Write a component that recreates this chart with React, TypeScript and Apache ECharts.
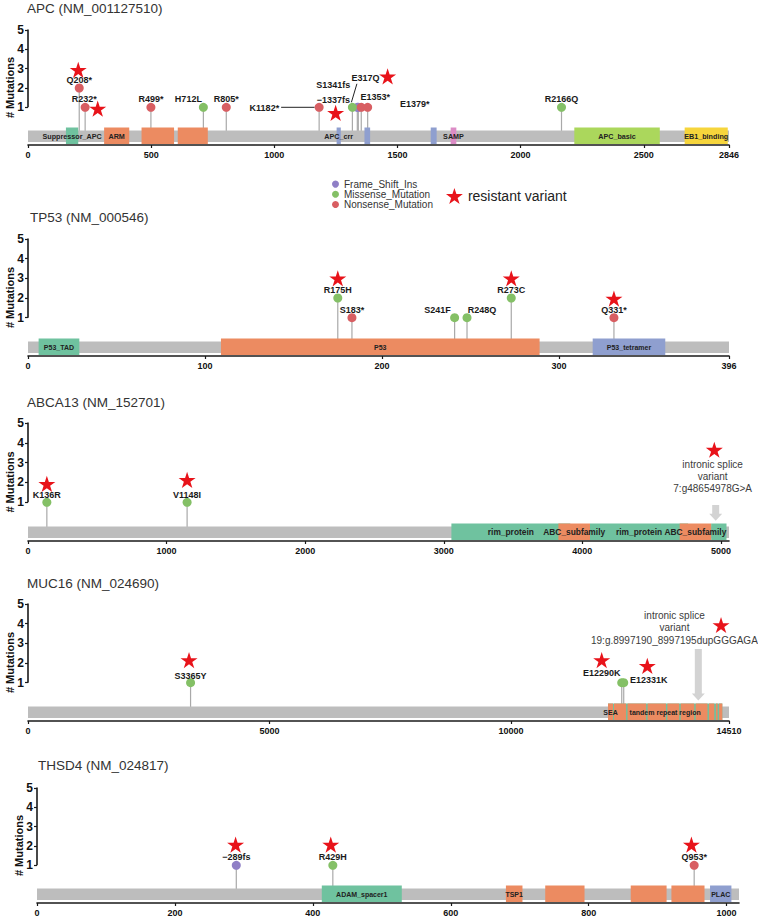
import React, { useEffect, useRef } from "react";
import * as echarts from "echarts";

const FONT = "'Liberation Sans', Arial, Helvetica, sans-serif";

// ---------- data ----------
const GENE_TITLES = [
  "APC (NM_001127510)",
  "TP53 (NM_000546)",
  "ABCA13 (NM_152701)",
  "MUC16 (NM_024690)",
  "THSD4 (NM_024817)",
];
const PROTEIN_LENGTHS = [2846, 396, 5058, 14510, 1018];
const X_TICKS = [
  [0, 500, 1000, 1500, 2000, 2500, 2846],
  [0, 100, 200, 300, 396],
  [0, 1000, 2000, 3000, 4000, 5000],
  [0, 5000, 10000, 14510],
  [0, 200, 400, 600, 800, 1000],
];
const Y_TICKS = [1, 2, 3, 4, 5];
const Y_MIN = -0.95;
const Y_MAX = 5;
const MUTATION_TYPES = ["Frame_Shift_Ins", "Missense_Mutation", "Nonsense_Mutation"];
const MUTATION_COLORS = ["#8f7fc6", "#84c066", "#d85e62"];
const STAR_LABEL = "resistant variant";

const DOMAIN_COLORS: Record<string, string> = {
  Suppressor_APC: "#6fc29f",
  ARM: "#ec8b61",
  APC_crr: "#8f9fcf",
  SAMP: "#dc8cc6",
  APC_basic: "#abd75c",
  EB1_binding: "#f6d53c",
  P53_TAD: "#6fc29f",
  P53: "#ec8b61",
  P53_tetramer: "#8f9fcf",
  rim_protein: "#6fc29f",
  ABC_subfamily: "#ec8b61",
  "tandem repeat region": "#6fc29f",
  SEA: "#ec8b61",
  ADAM_spacer1: "#6fc29f",
  TSP1: "#ec8b61",
  PLAC: "#8f9fcf",
};

// domains: [name, start, end, show label]
const APC_DOMAINS: [string, number, number, number][] = [
  ["Suppressor_APC", 154, 204, 1],
  ["ARM", 309, 411, 1],
  ["ARM", 461, 593, 0],
  ["ARM", 608, 730, 0],
  ["APC_crr", 1253, 1270, 1],
  ["APC_crr", 1366, 1389, 0],
  ["APC_crr", 1635, 1659, 0],
  ["SAMP", 1716, 1739, 1],
  ["APC_basic", 2218, 2565, 1],
  ["EB1_binding", 2666, 2841, 1],
];
const TP53_DOMAINS: [string, number, number, number][] = [
  ["P53_TAD", 6, 29, 1],
  ["P53", 109, 289, 1],
  ["P53_tetramer", 319, 360, 1],
];
const ABCA13_DOMAINS: [string, number, number, number][] = [
  ["rim_protein", 3055, 3913, 1],
  ["rim_protein", 4055, 4763, 1],
  ["rim_protein", 4929, 5040, 0],
  ["ABC_subfamily", 3827, 4055, 1],
  ["ABC_subfamily", 4702, 4929, 1],
];
const MUC16_DOMAINS: [string, number, number, number][] = [
  ["tandem repeat region", 12006, 14372, 1],
  ["SEA", 12006, 12110, 1],
  ["SEA", 12130, 12380, 0],
  ["SEA", 12410, 12795, 0],
  ["SEA", 12825, 13205, 0],
  ["SEA", 13235, 13480, 0],
  ["SEA", 13510, 13790, 0],
  ["SEA", 13820, 14065, 0],
  ["SEA", 14095, 14205, 0],
  ["SEA", 14240, 14275, 0],
  ["SEA", 14305, 14372, 0],
];
const THSD4_DOMAINS: [string, number, number, number][] = [
  ["ADAM_spacer1", 413, 529, 1],
  ["TSP1", 680, 704, 1],
  ["TSP1", 737, 794, 0],
  ["TSP1", 861, 913, 0],
  ["TSP1", 920, 968, 0],
  ["PLAC", 976, 1007, 1],
];

// mutations: [position, count, label, type index]
const APC_MUTATIONS: [number, number, string, number][] = [
  [208, 2, "Q208*", 2],
  [232, 1, "R232*", 2],
  [499, 1, "R499*", 2],
  [712, 1, "H712L", 1],
  [805, 1, "R805*", 2],
  [1182, 1, "K1182*", 2],
  [1317, 1, "E317Q", 1],
  [1337, 1, "\u22121337fs", 0],
  [1341, 1, "S1341fs", 0],
  [1353, 1, "E1353*", 2],
  [1379, 1, "E1379*", 2],
  [2166, 1, "R2166Q", 1],
];
const TP53_MUTATIONS: [number, number, string, number][] = [
  [175, 2, "R175H", 1],
  [183, 1, "S183*", 2],
  [241, 1, "S241F", 1],
  [248, 1, "R248Q", 1],
  [273, 2, "R273C", 1],
  [331, 1, "Q331*", 2],
];
const ABCA13_MUTATIONS: [number, number, string, number][] = [
  [136, 1, "K136R", 1],
  [1148, 1, "V1148I", 1],
];
const MUC16_MUTATIONS: [number, number, string, number][] = [
  [3365, 1, "S3365Y", 1],
  [12290, 1, "E12290K", 1],
  [12331, 1, "E12331K", 1],
];
const THSD4_MUTATIONS: [number, number, string, number][] = [
  [289, 1, "\u2212289fs", 0],
  [429, 1, "R429H", 1],
  [953, 1, "Q953*", 2],
];

// resistant variant stars: [position, height]
const APC_STARS = [[204, 2.94], [283, 0.93], [1249, 0.71], [1460, 2.6]];
const TP53_STARS = [[175, 3.0], [273, 3.0], [331, 1.97]];
const ABCA13_STARS = [[136, 1.93], [1148, 2.13], [4952, 3.65]];
const MUC16_STARS = [[3333, 2.15], [11875, 2.15], [12819, 1.85], [14345, 3.93]];
const THSD4_STARS = [[288, 2.07], [426, 2.07], [949, 2.07]];

// intronic splice annotations: text lines and [text x, text y, arrow x, arrow top, arrow tip]
const ABCA13_NOTE_TEXT = ["intronic splice", "variant", "7:g48654978G>A"];
const ABCA13_NOTE_AT = [4940, 2.3, 4962, 0.86, 0.07];
const MUC16_NOTE_TEXT = ["intronic splice", "variant", "19:g.8997190_8997195dupGGGAGA"];
const MUC16_NOTE_AT = [13380, 3.78, 13875, 2.71, 0.09];

// ---------- layout (pixels) ----------
const GRID_BOXES = [
  [28, 29, 30, 115],
  [28, 29, 239, 117],
  [28, 29, 423, 118],
  [28, 29, 604, 117],
  [37, 19, 788, 115],
];
const TITLE_POS = [[27, 1], [30, 210], [27, 395], [27, 576], [38, 758]];
const DOMAIN_FONT = [7.2, 7, 8.4, 7, 7];
// label offsets from the lollipop head: [dx, dy, align]
const APC_LABEL_OFFSETS: [number, number, string][] = [
  [0, -8, "center"], [-1, -8, "center"], [0, -8, "center"], [-15, -8, "center"],
  [0, -8, "center"], [-40, 1, "right"], [13, -29, "center"], [-24, -7, "center"],
  [-25, -22, "center"], [14, -10, "center"], [47, -3, "center"], [0, -8, "center"],
];
const TP53_LABEL_OFFSETS: [number, number, string][] = [
  [0, -8, "center"], [0, -8, "center"], [-17, -8, "center"], [15, -8, "center"],
  [0, -8, "center"], [0, -8, "center"],
];
const ABCA13_LABEL_OFFSETS: [number, number, string][] = [[0, -7, "center"], [0, -7, "center"]];
const MUC16_LABEL_OFFSETS: [number, number, string][] = [
  [0, -7, "center"], [-20, -10, "center"], [25, -3, "center"],
];
const THSD4_LABEL_OFFSETS: [number, number, string][] = [
  [0, -8, "center"], [0, -8, "center"], [0, -8, "center"],
];
// leader lines: [mutation index, x1, y1, x2, y2] offsets from the lollipop head
const APC_LEADERS = [[5, -38, 0, -4.5, 0], [6, -1, -5, 4.5, -23.5]];

const DOMAINS = [APC_DOMAINS, TP53_DOMAINS, ABCA13_DOMAINS, MUC16_DOMAINS, THSD4_DOMAINS];
const MUTATIONS = [APC_MUTATIONS, TP53_MUTATIONS, ABCA13_MUTATIONS, MUC16_MUTATIONS, THSD4_MUTATIONS];
const STARS = [APC_STARS, TP53_STARS, ABCA13_STARS, MUC16_STARS, THSD4_STARS];
const LABEL_OFFSETS = [APC_LABEL_OFFSETS, TP53_LABEL_OFFSETS, ABCA13_LABEL_OFFSETS, MUC16_LABEL_OFFSETS, THSD4_LABEL_OFFSETS];
const LEADERS: number[][][] = [APC_LEADERS, [], [], [], []];
const NOTES: { text: string[]; at: number[] }[][] = [
  [], [], [{ text: ABCA13_NOTE_TEXT, at: ABCA13_NOTE_AT }], [{ text: MUC16_NOTE_TEXT, at: MUC16_NOTE_AT }], [],
];

const STAR_PATH =
  "path://M50,0 L61.23,34.55 L97.55,34.55 L68.17,55.9 L79.39,90.45 L50,69.1 L20.61,90.45 L31.83,55.9 L2.45,34.55 L38.77,34.55 Z";

const BAR_COLOR = "#bdbdbd";
const STICK_COLOR = "#a9a9a9";
const AXIS_COLOR = "#1a1a1a";

function buildOption() {
  const series: any[] = [];
  for (let i = 0; i < GENE_TITLES.length; i++) {
    const L = PROTEIN_LENGTHS[i];
    const doms = DOMAINS[i];
    const muts = MUTATIONS[i];
    const offs = LABEL_OFFSETS[i];
    const leaders = LEADERS[i];
    const domFont = DOMAIN_FONT[i];

    // lollipop sticks
    series.push({
      type: "custom",
      xAxisIndex: i,
      yAxisIndex: i,
      z: 2,
      silent: true,
      data: muts.map((m) => [m[0], m[1]]),
      encode: { x: 0, y: 1 },
      renderItem: (params: any, api: any) => {
        const m = muts[params.dataIndex];
        const head = api.coord([m[0], m[1]]);
        const base = api.coord([m[0], Y_MIN]);
        return {
          type: "line",
          shape: { x1: head[0], y1: head[1], x2: head[0], y2: base[1] - 14 },
          style: { stroke: STICK_COLOR, lineWidth: 1.2 },
        };
      },
    });

    // protein backbone, domains and the y axis line
    series.push({
      type: "custom",
      xAxisIndex: i,
      yAxisIndex: i,
      z: 3,
      silent: true,
      data: [[0, L], ...doms.map((d) => [d[1], d[2]])],
      encode: { x: [0, 1] },
      renderItem: (params: any, api: any) => {
        const idx = params.dataIndex;
        if (idx === 0) {
          const a = api.coord([0, Y_MIN]);
          const b = api.coord([L, Y_MIN]);
          const t1 = api.coord([0, Y_TICKS[0]]);
          const t5 = api.coord([0, Y_TICKS[Y_TICKS.length - 1]]);
          return {
            type: "group",
            children: [
              {
                type: "rect",
                shape: { x: a[0], y: a[1] - 14.5, width: b[0] - a[0], height: 11.5 },
                style: { fill: BAR_COLOR },
              },
              {
                type: "line",
                shape: { x1: t1[0], y1: t1[1], x2: t5[0], y2: t5[1] - 0.5 },
                style: { stroke: AXIS_COLOR, lineWidth: 1.6 },
              },
            ],
          };
        }
        const d = doms[idx - 1];
        const a = api.coord([d[1], Y_MIN]);
        const b = api.coord([d[2], Y_MIN]);
        const children: any[] = [
          {
            type: "rect",
            shape: { x: a[0], y: a[1] - 17.5, width: b[0] - a[0], height: 16.5 },
            style: { fill: DOMAIN_COLORS[d[0]] },
          },
        ];
        if (d[3]) {
          children.push({
            type: "text",
            z2: 10,
            style: {
              text: d[0],
              x: (a[0] + b[0]) / 2,
              y: a[1] - 9,
              align: "center",
              verticalAlign: "middle",
              fontSize: domFont,
              fontWeight: "bold",
              fill: "#222",
              fontFamily: FONT,
            },
          });
        }
        return { type: "group", children };
      },
    });

    // leader lines
    if (leaders.length) {
      series.push({
        type: "custom",
        xAxisIndex: i,
        yAxisIndex: i,
        z: 3,
        silent: true,
        data: leaders.map((l) => [muts[l[0]][0], muts[l[0]][1]]),
        encode: { x: 0, y: 1 },
        renderItem: (params: any, api: any) => {
          const l = leaders[params.dataIndex];
          const m = muts[l[0]];
          const h = api.coord([m[0], m[1]]);
          return {
            type: "line",
            shape: { x1: h[0] + l[1], y1: h[1] + l[2], x2: h[0] + l[3], y2: h[1] + l[4] },
            style: { stroke: "#222", lineWidth: 1 },
          };
        },
      });
    }

    // annotations
    const notes = NOTES[i];
    if (notes.length) {
      series.push({
        type: "custom",
        xAxisIndex: i,
        yAxisIndex: i,
        z: 3,
        silent: true,
        data: notes.map((n) => [n.at[0], n.at[1]]),
        encode: { x: 0, y: 1 },
        renderItem: (params: any, api: any) => {
          const n = notes[params.dataIndex];
          const tp = api.coord([n.at[0], n.at[1]]);
          const top = api.coord([n.at[2], n.at[3]]);
          const tip = api.coord([n.at[2], n.at[4]]);
          const x = top[0];
          const yT = top[1];
          const yB = tip[1];
          const sw = 3.5;
          const hw = 6.5;
          const hl = 7;
          return {
            type: "group",
            children: [
              {
                type: "polygon",
                shape: {
                  points: [
                    [x - sw, yT], [x + sw, yT], [x + sw, yB - hl], [x + hw, yB - hl],
                    [x, yB], [x - hw, yB - hl], [x - sw, yB - hl],
                  ],
                },
                style: { fill: "#d3d3d3" },
              },
              {
                type: "text",
                style: {
                  text: n.text.join("\n"),
                  x: tp[0],
                  y: tp[1],
                  align: "center",
                  verticalAlign: "middle",
                  fontSize: 10,
                  lineHeight: 12.4,
                  fill: "#3c3c3c",
                  fontFamily: FONT,
                },
              },
            ],
          };
        },
      });
    }

    // lollipop heads by mutation type
    MUTATION_TYPES.forEach((t, ti) => {
      const items = muts.map((m, mi) => ({ m, mi })).filter((o) => o.m[3] === ti);
      if (!items.length) return;
      series.push({
        type: "scatter",
        name: t,
        xAxisIndex: i,
        yAxisIndex: i,
        z: 4,
        silent: true,
        symbol: "circle",
        symbolSize: 9,
        itemStyle: { color: MUTATION_COLORS[ti], opacity: 1 },
        data: items.map(({ m, mi }) => ({
          value: [m[0], m[1]],
          label: {
            show: true,
            formatter: m[2],
            position: "inside",
            offset: [offs[mi][0], offs[mi][1]],
            align: offs[mi][2],
            verticalAlign: "middle",
            fontSize: 9,
            fontWeight: "bold",
            color: "#1a1a1a",
            fontFamily: FONT,
            textBorderWidth: 0,
          },
        })),
      });
    });

    // resistant variant stars
    series.push({
      type: "scatter",
      name: STAR_LABEL,
      xAxisIndex: i,
      yAxisIndex: i,
      z: 5,
      silent: true,
      symbol: STAR_PATH,
      symbolKeepAspect: true,
      symbolSize: 17,
      itemStyle: { color: "#e8131a", opacity: 1 },
      data: STARS[i],
    });
  }

  return {
    animation: false,
    backgroundColor: "#ffffff",
    title: GENE_TITLES.map((t, i) => ({
      text: t,
      left: TITLE_POS[i][0],
      top: TITLE_POS[i][1],
      padding: 0,
      textStyle: { fontSize: 13.5, fontWeight: "normal", color: "#333", fontFamily: FONT },
    })),
    legend: [
      {
        data: MUTATION_TYPES.map((n) => ({ name: n, icon: "circle" })),
        orient: "vertical",
        left: 332,
        top: 179,
        itemWidth: 7,
        itemHeight: 7,
        itemGap: 0,
        padding: 0,
        selectedMode: false,
        textStyle: { fontSize: 10, color: "#333", fontFamily: FONT, lineHeight: 10.2 },
      },
      {
        data: [{ name: STAR_LABEL, icon: STAR_PATH }],
        left: 446,
        top: 188,
        itemWidth: 17,
        itemHeight: 16,
        padding: 0,
        selectedMode: false,
        textStyle: { fontSize: 14, color: "#222", fontFamily: FONT },
      },
    ],
    grid: GRID_BOXES.map(([l, r, t, h]) => ({
      left: l,
      right: r,
      top: t,
      height: h,
      containLabel: false,
      outerBoundsMode: "none",
    })),
    xAxis: PROTEIN_LENGTHS.map((L, i) => ({
      gridIndex: i,
      type: "value",
      min: 0,
      max: L,
      axisLine: { show: true, onZero: false, lineStyle: { color: AXIS_COLOR, width: 1.6 } },
      axisTick: { show: true, length: 3, customValues: X_TICKS[i], lineStyle: { color: AXIS_COLOR, width: 1.2 } },
      axisLabel: {
        customValues: X_TICKS[i],
        formatter: (v: number) => String(v),
        fontSize: 9,
        fontWeight: "bold",
        color: "#111",
        fontFamily: FONT,
        margin: 5,
      },
      splitLine: { show: false },
    })),
    yAxis: PROTEIN_LENGTHS.map((_, i) => ({
      gridIndex: i,
      type: "value",
      min: Y_MIN,
      max: Y_MAX,
      axisLine: { show: false, onZero: false },
      axisTick: { show: true, length: 3, customValues: Y_TICKS, lineStyle: { color: AXIS_COLOR, width: 1.2 } },
      axisLabel: {
        customValues: Y_TICKS,
        formatter: (v: number) => String(v),
        fontSize: 12,
        fontWeight: "bold",
        color: "#111",
        fontFamily: FONT,
        margin: 4,
      },
      splitLine: { show: false },
      name: "# Mutations",
      nameLocation: "middle",
      nameGap: 13,
      nameMoveOverlap: false,
      nameTextStyle: { fontSize: 11, fontWeight: "bold", color: "#111", fontFamily: FONT },
    })),
    series,
  };
}

export default function App() {
  const ref = useRef<HTMLDivElement>(null);
  useEffect(() => {
    document.body.style.margin = "0";
    if (!ref.current) return;
    const chart = echarts.init(ref.current, null, { renderer: "svg" });
    chart.setOption(buildOption() as any);
    return () => chart.dispose();
  }, []);
  return <div ref={ref} style={{ width: 758, height: 921, background: "#fff" }} />;
}
